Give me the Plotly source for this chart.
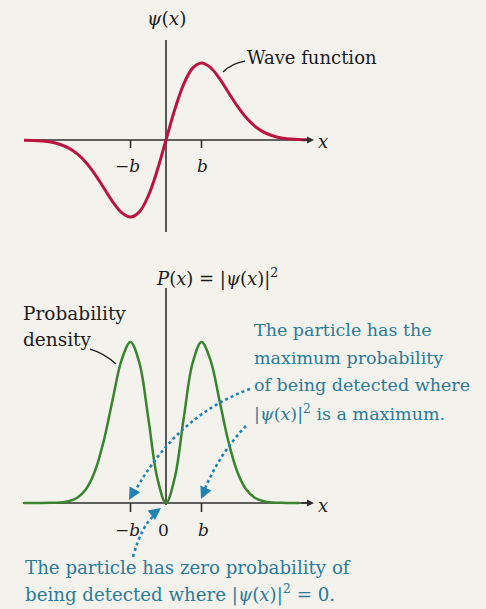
import plotly.graph_objects as go

W, H = 486, 609

# Position along the x axis, in units of b
x_vals = [-4.0, -3.75, -3.5, -3.25, -3.0, -2.75, -2.5, -2.25, -2.0, -1.75, -1.5, -1.25,
          -1.0, -0.75, -0.5, -0.25, 0.0, 0.25, 0.5, 0.75, 1.0, 1.25, 1.5, 1.75,
          2.0, 2.25, 2.5, 2.75, 3.0, 3.25, 3.5, 3.75, 4.0]

# Wave function psi(x), relative to its maximum
psi_vals = [-0.002, -0.005, -0.013, -0.027, -0.055, -0.103, -0.181, -0.295, -0.446, -0.624,
            -0.803, -0.943, -1.0, -0.933, -0.727, -0.400, 0.0, 0.400, 0.727, 0.933, 1.0,
            0.943, 0.803, 0.624, 0.446, 0.295, 0.181, 0.103, 0.055, 0.027, 0.013, 0.005, 0.002]

# Probability density |psi(x)|^2, relative to its maximum
dens_x = x_vals[:-1]
dens_vals = [0.0, 0.0, 0.0, 0.001, 0.003, 0.011, 0.033, 0.087, 0.199, 0.389, 0.645, 0.889,
             1.0, 0.870, 0.529, 0.160, 0.0, 0.160, 0.529, 0.870, 1.0, 0.889, 0.645, 0.389,
             0.199, 0.087, 0.033, 0.011, 0.003, 0.001, 0.0, 0.0]

tick_pos = [-1.0, 1.0]
tick_text_top = ["\u2212<i>b</i>", "<i>b</i>"]
tick_pos_bottom = [-1.0, 0.0, 1.0]
tick_text_bottom = ["\u2212<i>b</i>", "0", "<i>b</i>"]

# text blocks, one entry per line
density_lines = ["Probability", "density"]
max_note_lines = ["The particle has the", "maximum probability", "of being detected where",
                  "|<i>\u03c8</i>(<i>x</i>)|<sup>2</sup> is a maximum."]
zero_note_lines = ["The particle has zero probability of",
                   "being detected where |<i>\u03c8</i>(<i>x</i>)|<sup>2</sup> = 0."]

BG = "#f4f2ec"
RED = "#bb1440"
GREEN = "#3a8430"
BLUE_TXT = "#2b7b98"
BLUE_DOT = "#2183b0"
INK = "#1c1c1c"
AXIS = "#2e2e2e"
FONT = "DejaVu Serif"

# pixel geometry of the two panels
X0_PX, B_PX = 166.0, 35.5          # x = 0 position and size of b
Y0_TOP, A_TOP = 140.0, 77.0        # top panel baseline and amplitude
Y0_BOT, A_BOT = 503.0, 161.0       # bottom panel baseline and amplitude


def px(xp):
    return xp / W


def py(yp):
    return 1 - yp / H


def dx(xp):
    return (xp - X0_PX) / B_PX


def dy_top(yp):
    return (Y0_TOP - yp) / A_TOP


def dy_bot(yp):
    return (Y0_BOT - yp) / A_BOT


fig = go.Figure()

fig.add_trace(go.Scatter(
    x=x_vals, y=psi_vals, mode="lines", yaxis="y",
    line=dict(color=RED, width=3, shape="spline", smoothing=1.0),
    hoverinfo="skip", showlegend=False))

fig.add_trace(go.Scatter(
    x=dens_x, y=dens_vals, mode="lines", yaxis="y2",
    line=dict(color=GREEN, width=2.5, shape="spline", smoothing=1.0),
    hoverinfo="skip", showlegend=False))


def seg(x0, y0, x1, y1, yref, color=AXIS, width=1.6):
    fig.add_shape(type="line", xref="x", yref=yref, x0=x0, y0=y0, x1=x1, y1=y1,
                  line=dict(color=color, width=width), layer="below")


def arrow(tip, tail, yref, color, width, size, head=2):
    fig.add_annotation(
        x=tip[0], y=tip[1], ax=tail[0], ay=tail[1], xref="x", yref=yref,
        axref="x", ayref=yref, text="", showarrow=True, arrowhead=head,
        arrowsize=size, arrowwidth=width, arrowcolor=color, standoff=0, startstandoff=0)


def label(xp, yp, text, size=18, color=INK, xanchor="center"):
    fig.add_annotation(
        x=px(xp), y=py(yp), xref="paper", yref="paper", text=text, showarrow=False,
        xanchor=xanchor, yanchor="middle", align="left",
        font=dict(family=FONT, size=size, color=color))


# ---- top panel: axes and ticks
seg(dx(25), 0, dx(308), 0, "y")
arrow((dx(314), 0), (dx(300), 0), "y", AXIS, 1.4, 1.0)
seg(0, dy_top(40), 0, dy_top(232), "y")
for t in tick_pos:
    seg(t, 0, t, dy_top(148), "y")

# ---- bottom panel: axes and ticks
seg(dx(23), 0, dx(308), 0, "y2")
arrow((dx(314), 0), (dx(300), 0), "y2", AXIS, 1.4, 1.0)
seg(0, dy_bot(288), 0, dy_bot(505), "y2")
for t in tick_pos_bottom:
    if t != 0:
        seg(t, 0, t, dy_bot(512), "y2")


# ---- dotted pointers in the bottom panel
def dotted(p0, c, p1):
    path = "M {:.4f},{:.4f} Q {:.4f},{:.4f} {:.4f},{:.4f}".format(
        dx(p0[0]), dy_bot(p0[1]), dx(c[0]), dy_bot(c[1]), dx(p1[0]), dy_bot(p1[1]))
    fig.add_shape(type="path", xref="x", yref="y2", path=path,
                  line=dict(color=BLUE_DOT, width=2.6, dash="dot"))


dotted((250, 389), (176.5, 415.5), (134, 493))
arrow((dx(129), dy_bot(500)), (dx(134), dy_bot(491)), "y2", BLUE_DOT, 2.2, 1.1)

dotted((246, 426), (219.5, 453.5), (204, 491))
arrow((dx(201), dy_bot(499)), (dx(205), dy_bot(490)), "y2", BLUE_DOT, 2.2, 1.1)

dotted((133, 557), (142, 524.5), (155, 515))
arrow((dx(161), dy_bot(508)), (dx(153), dy_bot(514)), "y2", BLUE_DOT, 2.2, 1.1)

# ---- leader lines for the curve labels
fig.add_shape(type="path", xref="paper", yref="paper",
              path="M {:.4f},{:.4f} Q {:.4f},{:.4f} {:.4f},{:.4f}".format(
                  px(245), py(61), px(232), py(63), px(223), py(72)),
              line=dict(color=INK, width=1.3))
fig.add_shape(type="path", xref="paper", yref="paper",
              path="M {:.4f},{:.4f} Q {:.4f},{:.4f} {:.4f},{:.4f}".format(
                  px(90), py(349), px(104), py(353), px(116), py(364)),
              line=dict(color=INK, width=1.3))

# ---- text
label(166, 19, "<i>\u03c8</i>(<i>x</i>)", size=18.5)
label(245, 57, "Wave function", size=18, xanchor="left")
label(323, 141, "<i>x</i>", size=18)
for t, s in zip(tick_pos, tick_text_top):
    label(X0_PX + t * B_PX - (3 if t < 0 else -1), 166, s, size=17)

label(217, 277, "<i>P</i>(<i>x</i>) = |<i>\u03c8</i>(<i>x</i>)|<sup>2</sup>", size=18)
for i, s in enumerate(density_lines):
    label(21, 313 + 26 * i, s, size=18.5, xanchor="left")
label(323, 505, "<i>x</i>", size=18)
for t, s in zip(tick_pos_bottom, tick_text_bottom):
    label(X0_PX + t * B_PX - (3 if t < 0 else (-2 if t > 0 else 3)), 530, s, size=17)

for i, s in enumerate(max_note_lines):
    label(252, 330 + 27.7 * i, s, size=17.5, color=BLUE_TXT, xanchor="left")
for i, s in enumerate(zero_note_lines):
    label(23, 567 + 26 * i, s, size=18.2, color=BLUE_TXT, xanchor="left")

fig.update_layout(
    width=W, height=H,
    margin=dict(l=0, r=0, t=0, b=0),
    paper_bgcolor=BG, plot_bgcolor=BG,
    showlegend=False,
    xaxis=dict(domain=[0, 1], range=[dx(0), dx(W)], visible=False, fixedrange=True),
    yaxis=dict(domain=[0, 1], range=[dy_top(H), dy_top(0)], visible=False, fixedrange=True),
    yaxis2=dict(domain=[0, 1], range=[dy_bot(H), dy_bot(0)], overlaying="y",
                visible=False, fixedrange=True),
)

fig.write_html("out.html")
